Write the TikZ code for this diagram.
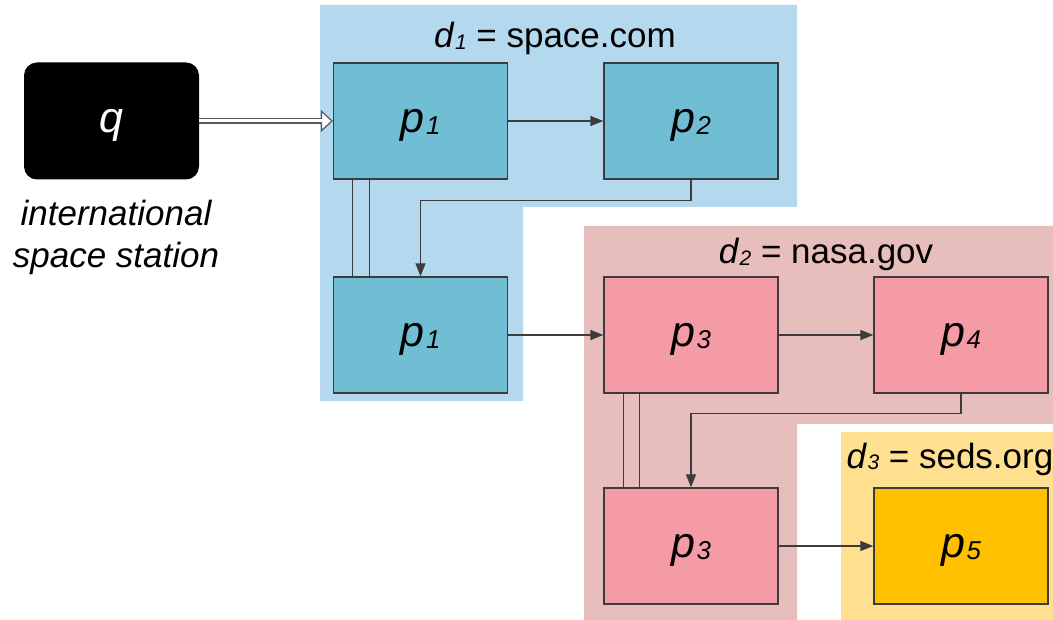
\documentclass[tikz,border=0pt]{standalone}
\usepackage{fontspec}
\setmainfont{Liberation Sans}
\usetikzlibrary{arrows.meta}
\definecolor{bluebg}{RGB}{180,216,238}
\definecolor{bluebox}{RGB}{112,190,211}
\definecolor{pinkbg}{RGB}{231,190,188}
\definecolor{pinkbox}{RGB}{244,155,166}
\definecolor{yellowbg}{RGB}{255,224,145}
\definecolor{yellowbox}{RGB}{255,192,0}
\definecolor{edge}{RGB}{60,60,60}
\newcommand{\low}[1]{\kern0.04em\raisebox{-0.04em}{\scalebox{0.6}{#1}}}

\begin{document}
\begin{tikzpicture}[x=1pt,y=-1pt,
  page/.style={draw=edge,line width=1.3pt,minimum width=174pt,minimum height=116pt,inner sep=0pt,text depth=0pt,font=\fontsize{43}{50}\selectfont\itshape},
  link/.style={draw=edge,line width=1.2pt,-{Triangle[length=13pt,width=10pt]}},
  site/.style={anchor=base,font=\fontsize{35}{42}\selectfont}]
\useasboundingbox (0,0) rectangle (1053,620);
% domains
\fill[bluebg] (320,5) -- (797,5) -- (797,207) -- (523,207) -- (523,401) -- (320,401) -- cycle;
\fill[pinkbg] (584,226) -- (1053,226) -- (1053,424) -- (797,424) -- (797,620) -- (584,620) -- cycle;
\fill[yellowbg] (841,432) rectangle (1053,620);
\node[site] (d1) at (555,48) {\textit{d\low{1}} = space.com};
\node[site] (d2) at (826,264) {\textit{d\low{2}} = nasa.gov};
\node[site] (d3) at (950,468) {\textit{d\low{3}} = seds.org};
% query
\node[fill=black,rounded corners=13pt,minimum width=175pt,minimum height=117pt,text=white,text depth=0pt,font=\fontsize{43}{50}\selectfont\itshape] (q) at (111.5,121) {q};
\node[font=\fontsize{35}{42}\selectfont\itshape,align=center] (iss) at (116,237) {international\\space station};
% pages
\node[page,fill=bluebox] (p1) at (420.5,121) {p\low{1}};
\node[page,fill=bluebox] (p2) at (691,121) {p\low{2}};
\node[page,fill=bluebox] (p1b) at (420.5,335) {p\low{1}};
\node[page,fill=pinkbox] (p3) at (691,335) {p\low{3}};
\node[page,fill=pinkbox] (p4) at (961,335) {p\low{4}};
\node[page,fill=pinkbox] (p3b) at (691,546) {p\low{3}};
\node[page,fill=yellowbox] (p5) at (961,546) {p\low{5}};
% links
\draw[edge!85,line width=1.2pt,shorten <=122pt,-{Triangle[open,fill=white,length=12pt,width=22pt]}] (q) -- (p1);
\draw[edge!85,line width=1.2pt,double=white,double distance=3pt,shorten >=10.5pt] (q) -- (p1);
\draw[link] (p1) -- (p2);
\draw[link] (p2.south) -- ++(0,21) -| (p1b.north);
\draw[edge,line width=1.2pt] ([xshift=20pt]p1.south west) -- ([xshift=20pt]p1b.north west);
\draw[edge,line width=1.2pt] ([xshift=37pt]p1.south west) -- ([xshift=37pt]p1b.north west);
\draw[link] (p1b) -- (p3);
\draw[link] (p3) -- (p4);
\draw[link] (p4.south) -- ++(0,20) -| (p3b.north);
\draw[edge,line width=1.2pt] ([xshift=20pt]p3.south west) -- ([xshift=20pt]p3b.north west);
\draw[edge,line width=1.2pt] ([xshift=36pt]p3.south west) -- ([xshift=36pt]p3b.north west);
\draw[link] (p3b) -- (p5);
\end{tikzpicture}
\end{document}
